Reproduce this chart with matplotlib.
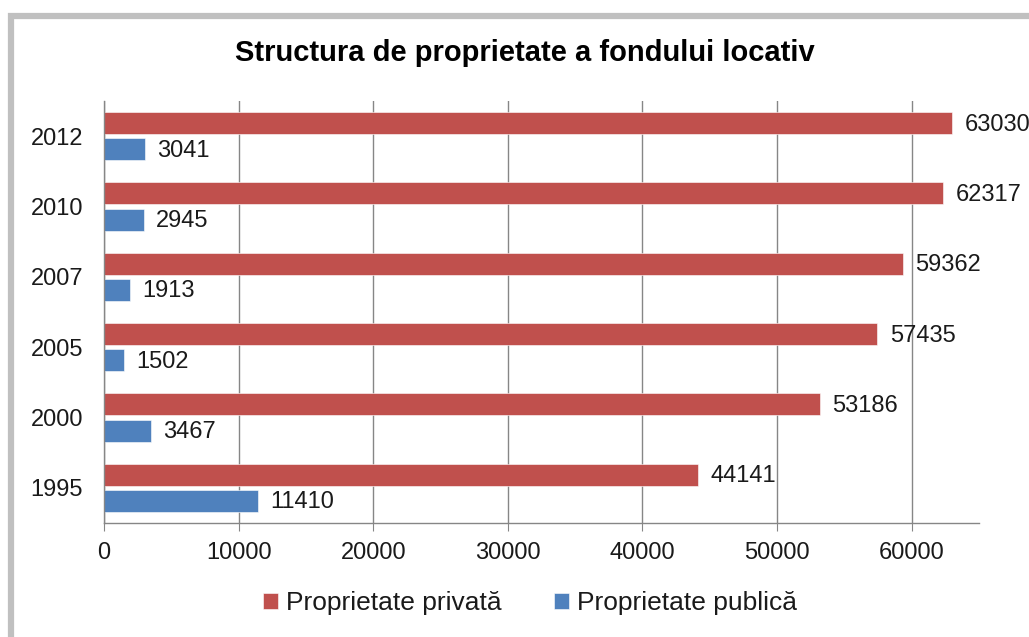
import matplotlib
matplotlib.use("Agg")
import matplotlib.pyplot as plt
import numpy as np
from matplotlib.patches import Rectangle

years = ["1995", "2000", "2005", "2007", "2010", "2012"]
privata = [44141, 53186, 57435, 59362, 62317, 63030]
publica = [11410, 3467, 1502, 1913, 2945, 3041]
series_names = ["Proprietate privată", "Proprietate publică"]
x_ticks = [0, 10000, 20000, 30000, 40000, 50000, 60000]
title = "Structura de proprietate a fondului locativ"

RED = "#C0504D"
BLUE = "#4F81BD"
GRID = "#868686"

plt.rcParams['font.family'] = ['Liberation Sans', 'DejaVu Sans']

fig = plt.figure(figsize=(10.29, 6.37), dpi=100)
W, H = 1029, 637

# outer gray frame
fig.patches.append(Rectangle((10.5 / W, -0.05), 1.2, 1 - 15.5 / H + 0.05,
                             transform=fig.transFigure, fill=False,
                             edgecolor="#C0C0C0", linewidth=4.5))

ax = fig.add_axes([104 / W, 1 - 523 / H, (979 - 104) / W, (523 - 101) / H])

y = np.arange(len(years))
h = 0.313
off = 0.185
b1 = ax.barh(y + off, privata, height=h, color=RED, label=series_names[0],
             edgecolor="white", linewidth=0.4)
b2 = ax.barh(y - off, publica, height=h, color=BLUE, label=series_names[1],
             edgecolor="white", linewidth=0.4)

for bars, vals in ((b1, privata), (b2, publica)):
    for rect, v in zip(bars, vals):
        ax.annotate(str(v), (v, rect.get_y() + rect.get_height() / 2),
                    xytext=(9, -1), textcoords="offset points",
                    ha="left", va="center", fontsize=17, color="#1a1a1a",
                    annotation_clip=False)

ax.set_xlim(0, 65000)
ax.set_ylim(-0.5, len(years) - 0.5)
ax.set_yticks(y)
ax.set_yticklabels(years, fontsize=17)
ax.set_xticks(x_ticks)
ax.set_xticklabels([str(t) for t in x_ticks], fontsize=17)
ax.tick_params(axis="y", length=0, pad=15, labelcolor="#1a1a1a")
ax.tick_params(axis="x", length=6, color=GRID, pad=8, labelcolor="#1a1a1a")

ax.grid(axis="x", color=GRID, linewidth=1)
ax.set_axisbelow(True)
for s in ("top", "right"):
    ax.spines[s].set_visible(False)
for s in ("left", "bottom"):
    ax.spines[s].set_color(GRID)
    ax.spines[s].set_linewidth(1)

fig.text(525 / W, 1 - 53 / H, title, ha="center", va="center",
         fontsize=21, fontweight="bold")

handles = [b1, b2]
fig.legend(handles, series_names, loc="center", bbox_to_anchor=(530 / W, 1 - 603 / H),
           ncol=2, frameon=False, fontsize=19, handlelength=0.55, handleheight=0.55,
           handletextpad=0.3, columnspacing=2.0, labelcolor="#1a1a1a")

fig.savefig("out.png", dpi=100)
